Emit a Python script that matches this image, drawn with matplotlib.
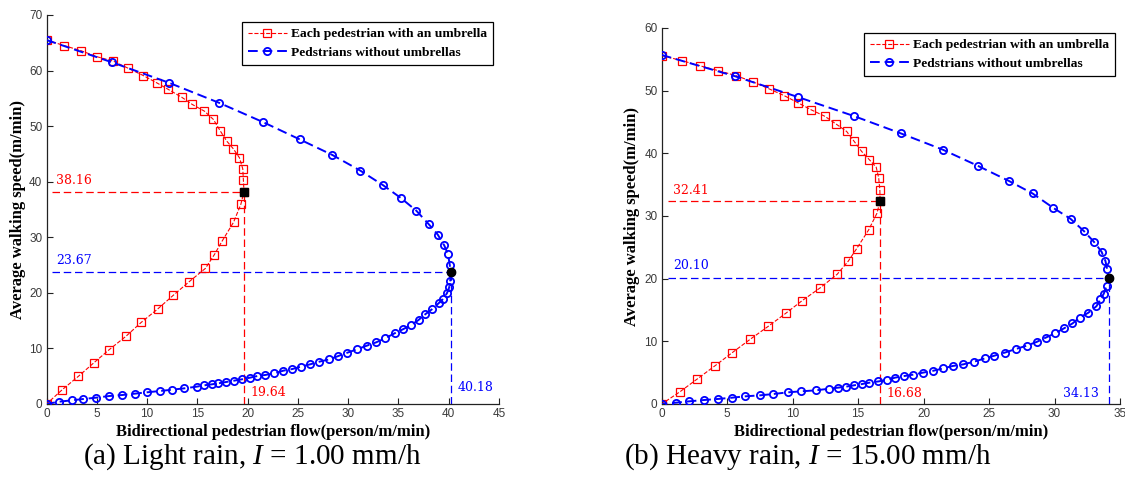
import matplotlib
matplotlib.use('Agg')
import matplotlib.pyplot as plt

plt.rcParams['mathtext.fontset'] = 'custom'
plt.rcParams['mathtext.rm'] = 'Liberation Serif'
plt.rcParams['mathtext.it'] = 'Liberation Serif:italic'

# ---------------- data: panel (a) light rain ----------------
a_red_q = [0.0, 1.74, 3.40, 5.00, 6.65, 8.14, 9.63, 10.96, 12.12, 13.45, 14.50, 15.70, 16.60,
           17.26, 17.93, 18.59, 19.19, 19.52, 19.58, 19.64, 19.32, 18.60, 17.46, 16.70, 15.80,
           14.15, 12.60, 11.06, 9.43, 7.91, 6.25, 4.70, 3.17, 1.58, 0.0]
a_red_v = [65.5, 64.5, 63.6, 62.5, 61.7, 60.4, 59.1, 57.8, 56.6, 55.2, 53.9, 52.7, 51.2,
           49.2, 47.3, 45.9, 44.3, 42.3, 40.3, 38.16, 35.9, 32.7, 29.3, 26.9, 24.4,
           21.95, 19.55, 17.1, 14.7, 12.2, 9.8, 7.4, 4.98, 2.6, 0.0]

a_blue_q = [0.0, 6.49, 12.19, 17.16, 21.57, 25.20, 28.44, 31.20, 33.45, 35.24, 36.77, 37.99,
            38.90, 39.55, 39.92, 40.10, 40.18,
            40.15, 40.05, 39.82, 39.42, 38.99, 38.33, 37.66, 37.00, 36.27, 35.44, 34.61, 33.68,
            32.79, 31.86, 30.86, 29.93, 29.03, 28.14, 27.14, 26.22, 25.29, 24.46, 23.56, 22.64,
            21.74, 20.98, 20.25, 19.42, 18.66, 17.86, 17.10, 16.44, 15.67, 14.94, 13.71, 12.52,
            11.29, 9.97, 8.78, 7.55, 6.25, 4.93, 3.66, 2.50, 1.28, 0.0]
a_blue_v = [65.5, 61.5, 57.8, 54.2, 50.7, 47.6, 44.8, 42.0, 39.4, 37.07, 34.8, 32.4,
            30.5, 28.55, 27.0, 25.1, 23.67,
            22.2, 21.0, 19.92, 18.9, 18.12, 17.04, 16.14, 15.12, 14.22, 13.44, 12.72, 11.82,
            11.1, 10.5, 9.84, 9.24, 8.64, 8.04, 7.62, 7.14, 6.72, 6.3, 6.0, 5.52,
            5.22, 5.04, 4.74, 4.44, 4.2, 3.96, 3.72, 3.54, 3.36, 3.12, 2.82, 2.58,
            2.34, 2.1, 1.86, 1.62, 1.44, 1.14, 0.9, 0.66, 0.42, 0.0]

a_red_peak = (19.64, 38.16)
a_blue_peak = (40.18, 23.67)

# ---------------- data: panel (b) heavy rain ----------------
b_red_q = [0.0, 1.53, 2.92, 4.32, 5.67, 6.99, 8.19, 9.36, 10.38, 11.40, 12.47, 13.30, 14.12,
           14.70, 15.27, 15.85, 16.38, 16.57, 16.66, 16.68, 16.44, 15.81, 14.89, 14.25, 13.40,
           12.08, 10.73, 9.46, 8.14, 6.74, 5.39, 4.07, 2.72, 1.40, 0.0]
b_red_v = [55.6, 54.8, 53.97, 53.2, 52.4, 51.4, 50.3, 49.2, 48.1, 46.96, 45.9, 44.7, 43.5,
           41.9, 40.3, 39.0, 37.8, 36.1, 34.2, 32.41, 30.45, 27.8, 24.8, 22.8, 20.7,
           18.5, 16.5, 14.45, 12.4, 10.3, 8.2, 6.1, 4.0, 1.96, 0.0]

b_blue_q = [0.0, 5.60, 10.38, 14.68, 18.24, 21.45, 24.17, 26.51, 28.32, 29.90, 31.22, 32.24,
            33.00, 33.59, 33.89, 34.02, 34.13,
            33.97, 33.76, 33.51, 33.20, 32.57, 31.93, 31.37, 30.71, 30.02, 29.34, 28.63, 27.86,
            27.02, 26.20, 25.39, 24.68, 23.84, 23.02, 22.21, 21.50, 20.73, 19.92, 19.16, 18.50,
            17.81, 17.18, 16.54, 15.85, 15.31, 14.68, 14.05, 13.44, 12.77, 11.78, 10.63, 9.62,
            8.52, 7.50, 6.36, 5.34, 4.27, 3.25, 2.08, 1.09, 0.0]
b_blue_v = [55.7, 52.3, 49.0, 45.95, 43.2, 40.6, 37.98, 35.6, 33.6, 31.3, 29.55, 27.6,
            25.9, 24.3, 22.8, 21.5, 20.10,
            18.8, 17.6, 16.7, 15.6, 14.55, 13.8, 12.85, 12.06, 11.26, 10.6, 9.9, 9.3,
            8.76, 8.2, 7.7, 7.28, 6.74, 6.32, 6.06, 5.68, 5.3, 4.99, 4.67, 4.46,
            4.2, 3.82, 3.6, 3.4, 3.19, 2.98, 2.76, 2.6, 2.44, 2.18, 2.02, 1.86,
            1.59, 1.38, 1.22, 1.0, 0.8, 0.64, 0.42, 0.21, 0.0]

b_red_peak = (16.68, 32.41)
b_blue_peak = (34.13, 20.10)

label_red = 'Each pedestrian with an umbrella'
label_blue = 'Pedstrians without umbrellas'
xlabel = 'Bidirectional pedestrian flow(person/m/min)'
ylabel = 'Average walking speed(m/min)'
caption_a = '(a) Light rain, $\\mathit{I}$ = 1.00 mm/h'
caption_b = '(b) Heavy rain, $\\mathit{I}$ = 15.00 mm/h'

RED = '#ff0000'
BLUE = '#0000ff'
SERIF = 'Liberation Serif'

W, H = 1125, 493
fig = plt.figure(figsize=(W / 100, H / 100), dpi=100)
axA = fig.add_axes([46.5 / W, (H - 404) / H, 452.5 / W, 389 / H])
axB = fig.add_axes([661.7 / W, (H - 404) / H, 458.3 / W, 376 / H])


def draw(ax, xmax, ymax, rq, rv, bq, bv, rpk, bpk, lab_pos, leg_anchor, caption, cap_x, ylab_x):
    ax.set_xlim(0, xmax)
    ax.set_ylim(0, ymax)
    ax.set_xticks(range(0, xmax + 1, 5))
    ax.set_yticks(range(0, ymax + 1, 10))
    for s in ('top', 'right'):
        ax.spines[s].set_visible(False)
    for s in ('left', 'bottom'):
        ax.spines[s].set_color('#222222')
        ax.spines[s].set_linewidth(0.9)
    ax.tick_params(direction='in', length=4, width=0.8, colors='#222222',
                   labelsize=8.5, pad=3)
    for t in ax.get_xticklabels() + ax.get_yticklabels():
        t.set_fontfamily('Liberation Sans')
        t.set_color('#3a3a3a')

    # guide lines
    ax.plot([0.5, rpk[0]], [rpk[1], rpk[1]], ls=(0, (6, 3)), color=RED, lw=0.9, zorder=1)
    ax.plot([rpk[0], rpk[0]], [0, rpk[1]], ls=(0, (6, 3)), color=RED, lw=0.9, zorder=1)
    ax.plot([0.5, bpk[0]], [bpk[1], bpk[1]], ls=(0, (6, 3)), color=BLUE, lw=0.9, zorder=1)
    ax.plot([bpk[0], bpk[0]], [0, bpk[1]], ls=(0, (6, 3)), color=BLUE, lw=0.9, zorder=1)

    ax.plot(rq, rv, ls='--', color=RED, lw=0.8, marker='s', ms=6.2,
            mfc='none', mec=RED, mew=0.9, label=label_red, zorder=3)
    ax.plot(bq, bv, ls=(0, (5, 2.5)), color=BLUE, lw=1.4, marker='o', ms=5.2,
            mfc='none', mec=BLUE, mew=1.3, label=label_blue, zorder=4)
    ax.plot([rpk[0]], [rpk[1]], marker='s', ms=6, color='black', ls='none', zorder=5)
    ax.plot([bpk[0]], [bpk[1]], marker='o', ms=6, color='black', ls='none', zorder=5)

    tf = dict(family='DejaVu Serif', fontsize=9)
    (rtx, rty), (btx, bty), (rvx, rvy), (bvx, bvy) = lab_pos
    ax.text(rtx, rty, f'{rpk[1]:.2f}', color=RED, va='center', ha='left', **tf)
    ax.text(btx, bty, f'{bpk[1]:.2f}', color=BLUE, va='center', ha='left', **tf)
    ax.text(rvx, rvy, f'{rpk[0]:.2f}', color=RED, va='center', ha='left', **tf)
    ax.text(bvx, bvy, f'{bpk[0]:.2f}', color=BLUE, va='center', ha='left', **tf)

    ax.set_xlabel(xlabel, fontfamily=SERIF, fontweight='bold', fontsize=12)
    ax.set_ylabel(ylabel, fontfamily=SERIF, fontweight='bold', fontsize=12)
    axh = ax.get_position().height * H
    ax.xaxis.set_label_coords(0.5, -(432 - 404) / axh)
    ax.xaxis.label.set_va('center')
    ax.yaxis.label.set_va('center')
    ax.yaxis.set_label_coords(ylab_x, 0.5)

    leg = ax.legend(loc='upper right', bbox_to_anchor=leg_anchor,
                    bbox_transform=fig.transFigure, borderaxespad=0,
                    prop=dict(family=SERIF, weight='bold', size=9.7),
                    fancybox=False, framealpha=1, edgecolor='black',
                    handlelength=2.9, handletextpad=0.3, borderpad=0.45,
                    labelspacing=0.45, numpoints=1)
    leg.get_frame().set_linewidth(0.9)

    fig.text(cap_x, (H - 457) / H, caption, ha='center', va='center',
             fontfamily=SERIF, fontsize=21)


draw(axA, 45, 70, a_red_q, a_red_v, a_blue_q, a_blue_v, a_red_peak, a_blue_peak,
     [(0.95, 40.3), (0.95, 25.9), (20.25, 2.0), (40.9, 2.9)],
     (493 / W, 1 - 22 / H), caption_a, 252 / W, -0.063)
draw(axB, 35, 60, b_red_q, b_red_v, b_blue_q, b_blue_v, b_red_peak, b_blue_peak,
     [(0.84, 34.0), (0.84, 22.15), (17.2, 1.6), (30.66, 1.6)],
     (1115 / W, 1 - 33 / H), caption_b, 808 / W, -0.065)

fig.savefig('out.png', dpi=100)
